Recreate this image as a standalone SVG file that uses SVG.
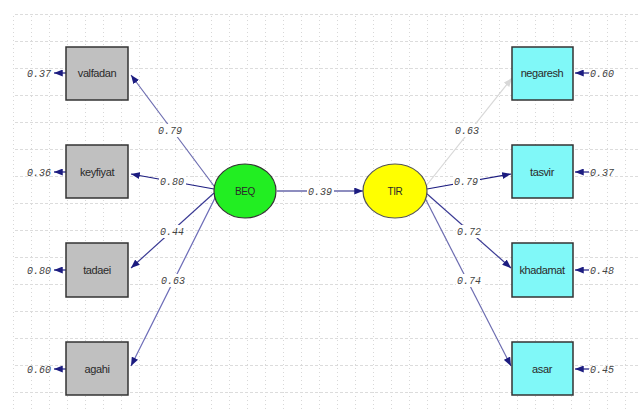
<svg xmlns="http://www.w3.org/2000/svg" width="640" height="415" viewBox="0 0 640 415">
<defs>
<pattern id="gv" x="13" y="0" width="18" height="415" patternUnits="userSpaceOnUse">
<line x1="0.5" y1="0" x2="0.5" y2="415" stroke="#d8d8d8" stroke-width="1" stroke-dasharray="1,3"/>
</pattern>
<pattern id="gh" x="0" y="14" width="640" height="27" patternUnits="userSpaceOnUse">
<line x1="0" y1="0.5" x2="640" y2="0.5" stroke="#dcdcdc" stroke-width="1" stroke-dasharray="3,2"/>
</pattern>
<marker id="ah" viewBox="0 0 10 8" refX="10" refY="4" markerWidth="9" markerHeight="7" markerUnits="userSpaceOnUse" orient="auto">
<path d="M0,0 L10,4 L0,8 z" fill="#1c1c80"/>
</marker>
<marker id="ahl" viewBox="0 0 10 8" refX="10" refY="4" markerWidth="9" markerHeight="7" markerUnits="userSpaceOnUse" orient="auto">
<path d="M0,0 L10,4 L0,8 z" fill="#d8d8d8"/>
</marker>
</defs>
<style>
.box{stroke:#333;stroke-width:1.5}
.gray{fill:#c0c0c0}
.cyan{fill:#80f8f8}
.lbl{font-family:"Liberation Sans",Arial,sans-serif;font-size:11px;fill:#2a2a2a;text-anchor:middle;letter-spacing:-0.4px}
.num{font-family:"Liberation Mono","Courier New",monospace;font-style:italic;font-size:10px;fill:#444;text-anchor:middle}
.bg{fill:#fff}
.p{fill:none;stroke-width:1.2;marker-end:url(#ah)}
</style>
<rect width="640" height="415" fill="#fff"/>
<rect x="13" y="14" width="627" height="396" fill="url(#gv)"/>
<rect x="13" y="14" width="627" height="396" fill="url(#gh)"/>

<g id="connectors">
<line class="p" x1="214" y1="186" x2="131" y2="75" stroke="#6c6cb0"/>
<line class="p" x1="214" y1="189" x2="131" y2="174" stroke="#1c1c80"/>
<line class="p" x1="214" y1="193" x2="131" y2="268" stroke="#3a3a94"/>
<line class="p" x1="216" y1="196" x2="131" y2="366" stroke="#6c6cb8"/>
<line class="p" x1="277" y1="191" x2="363" y2="191" stroke="#1c1c80"/>
<line x1="426" y1="186" x2="512" y2="78" stroke="#d8d8d8" stroke-width="1.2" fill="none" marker-end="url(#ahl)"/>
<line class="p" x1="427" y1="189" x2="511" y2="174" stroke="#1c1c80"/>
<line class="p" x1="426" y1="193" x2="511" y2="268" stroke="#3a3a94"/>
<line class="p" x1="424" y1="196" x2="511" y2="366" stroke="#6c6cb0"/>
<line class="p" x1="66" y1="73" x2="54" y2="73" stroke="#1c1c80"/>
<line class="p" x1="66" y1="172" x2="54" y2="172" stroke="#1c1c80"/>
<line class="p" x1="66" y1="270" x2="54" y2="270" stroke="#1c1c80"/>
<line class="p" x1="66" y1="369" x2="54" y2="369" stroke="#1c1c80"/>
<line class="p" x1="589" y1="73" x2="575" y2="73" stroke="#1c1c80"/>
<line class="p" x1="589" y1="172" x2="575" y2="172" stroke="#1c1c80"/>
<line class="p" x1="589" y1="270" x2="575" y2="270" stroke="#1c1c80"/>
<line class="p" x1="589" y1="369" x2="575" y2="369" stroke="#1c1c80"/>
<rect class="bg" x="157" y="124" width="27" height="13"/>
<text class="num" x="170" y="134">0.79</text>
<rect class="bg" x="159" y="175" width="27" height="13"/>
<text class="num" x="172" y="185">0.80</text>
<rect class="bg" x="159" y="225" width="27" height="13"/>
<text class="num" x="172" y="235">0.44</text>
<rect class="bg" x="160" y="274" width="27" height="13"/>
<text class="num" x="173" y="284">0.63</text>
<rect class="bg" x="307" y="185" width="27" height="13"/>
<text class="num" x="320" y="195">0.39</text>
<rect class="bg" x="454" y="124" width="27" height="13"/>
<text class="num" x="467" y="134">0.63</text>
<rect class="bg" x="453" y="175" width="27" height="13"/>
<text class="num" x="466" y="185">0.79</text>
<rect class="bg" x="456" y="225" width="27" height="13"/>
<text class="num" x="469" y="235">0.72</text>
<rect class="bg" x="456" y="274" width="27" height="13"/>
<text class="num" x="469" y="284">0.74</text>
<text class="num" x="39" y="77">0.37</text>
<text class="num" x="39" y="176">0.36</text>
<text class="num" x="39" y="274">0.80</text>
<text class="num" x="39" y="373">0.60</text>
<text class="num" x="602" y="77">0.60</text>
<text class="num" x="602" y="176">0.37</text>
<text class="num" x="602" y="274">0.48</text>
<text class="num" x="602" y="373">0.45</text>
</g>

<g id="valfadan"><rect class="box gray" x="66" y="47" width="62" height="53"/><text class="lbl" x="97" y="77">valfadan</text></g>
<g id="keyfiyat"><rect class="box gray" x="66" y="145" width="62" height="53"/><text class="lbl" x="97" y="176">keyfiyat</text></g>
<g id="tadaei"><rect class="box gray" x="66" y="243" width="62" height="54"/><text class="lbl" x="97" y="274">tadaei</text></g>
<g id="agahi"><rect class="box gray" x="66" y="342" width="62" height="53"/><text class="lbl" x="97" y="373">agahi</text></g>

<g id="BEQ"><ellipse cx="245" cy="191" rx="31" ry="27" fill="#22ee22" stroke="#333" stroke-width="1.2"/><text class="lbl" x="245" y="195" style="font-size:10px">BEQ</text></g>
<g id="TIR"><ellipse cx="395" cy="191" rx="32" ry="27" fill="#ffff00" stroke="#555" stroke-width="1.2"/><text class="lbl" x="395" y="195" style="font-size:10px">TIR</text></g>

<g id="negaresh"><rect class="box cyan" x="512" y="47" width="61" height="53"/><text class="lbl" x="542" y="77">negaresh</text></g>
<g id="tasvir"><rect class="box cyan" x="512" y="145" width="61" height="53"/><text class="lbl" x="542" y="176">tasvir</text></g>
<g id="khadamat"><rect class="box cyan" x="512" y="243" width="61" height="54"/><text class="lbl" x="542" y="274">khadamat</text></g>
<g id="asar"><rect class="box cyan" x="512" y="342" width="61" height="53"/><text class="lbl" x="542" y="373">asar</text></g>
</svg>
